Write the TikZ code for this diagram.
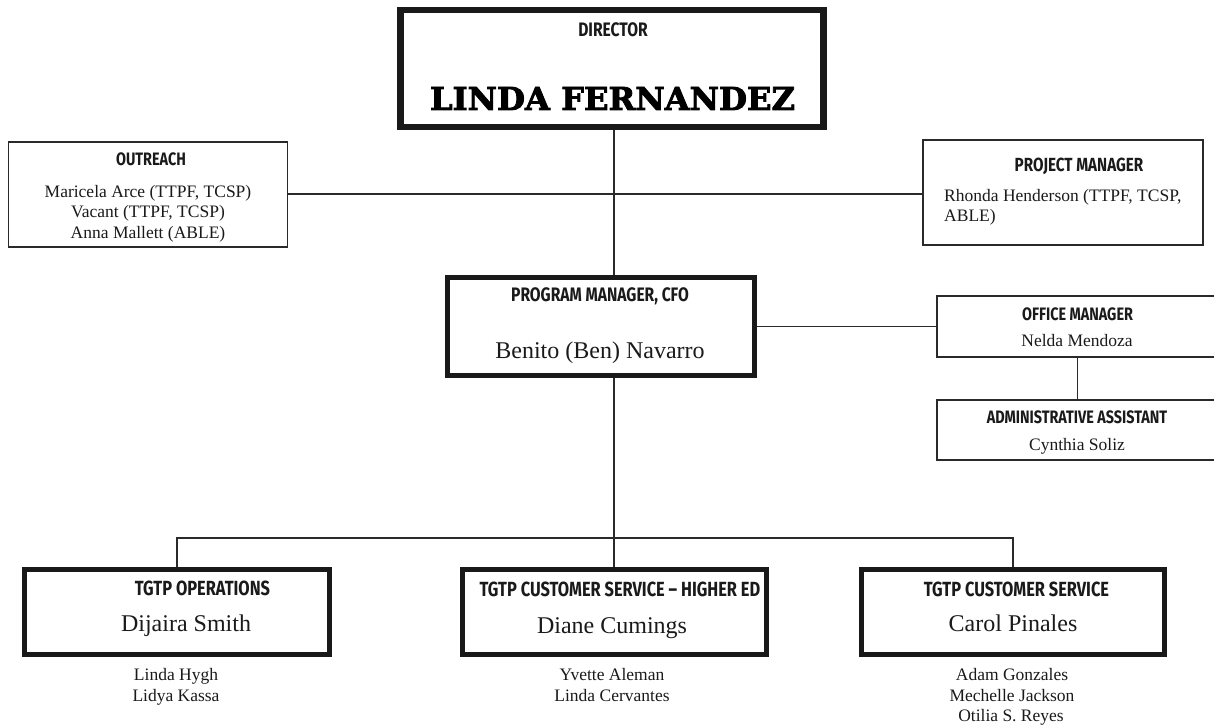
\documentclass[tikz,border=0pt]{standalone}
\usepackage{fontspec}
\usepackage{graphicx}
\setmainfont{Liberation Serif}
\newfontfamily\hdrfont[FakeStretch=0.8]{Fira Sans}
\newfontfamily\slabfont[BoldFeatures={FakeBold=2.5}]{DejaVu Serif}
\definecolor{lineC}{HTML}{2A2A2A}
\definecolor{txtC}{HTML}{1A1A1A}
\tikzset{
  thinbox/.style={draw=lineC, line width=1.4pt, fill=white, inner sep=0pt},
  thickbox/.style={draw=black!90, line width=5pt, fill=white, inner sep=0pt},
  heavybox/.style={draw=black!90, line width=6.5pt, fill=white, inner sep=0pt},
  conn/.style={draw=lineC, line width=1.4pt},
  txt/.style={anchor=base, inner sep=0pt, text=txtC, font=\fontsize{17.5}{20}\selectfont},
  bigtxt/.style={anchor=base, inner sep=0pt, text=txtC, font=\fontsize{24}{28}\selectfont},
  hdr/.style={anchor=base, inner sep=0pt, text=txtC, font=\hdrfont\bfseries\fontsize{18}{20}\selectfont},
  bighdr/.style={hdr, font=\hdrfont\bfseries\fontsize{19.5}{22}\selectfont},
  tgtphdr/.style={hdr, font=\hdrfont\bfseries\fontsize{20.5}{22}\selectfont}
}
\begin{document}
\begin{tikzpicture}[x=1pt,y=-1pt]
\useasboundingbox[fill=white] (0,0) rectangle (1214,727);

% boxes
\node[heavybox, minimum width=423pt, minimum height=117pt] (dir) at (612,68.5) {};
\node[thinbox, minimum width=279pt, minimum height=105pt] (out) at (148,194.5) {};
\node[thinbox, minimum width=280pt, minimum height=105pt] (proj) at (1063,192.5) {};
\node[thickbox, minimum width=306.5pt, minimum height=98.5pt] (pm) at (600.75,326.25) {};
\node[thinbox, minimum width=281pt, minimum height=61pt] (om) at (1077.5,326.5) {};
\node[thinbox, minimum width=281pt, minimum height=60pt] (aa) at (1077.5,430) {};
\node[thickbox, minimum width=305pt, minimum height=85pt] (ops) at (177,612) {};
\node[thickbox, minimum width=304pt, minimum height=85pt] (hed) at (614,612) {};
\node[thickbox, minimum width=303pt, minimum height=85pt] (cs) at (1013,612) {};

% junction coordinates
\coordinate (j1) at (614,194);
\coordinate (bus) at (614,538);

% connectors
\draw[conn] (dir.south -| j1) -- (pm.north -| j1);
\draw[conn] (out.east |- j1) -- (proj.west |- j1);
\draw[conn] (pm.east) -- (om.west |- pm.east);
\draw[conn] (om.south) -- (aa.north);
\draw[conn] (pm.south -| bus) -- (bus);
\draw[conn] (ops.north) |- (bus) -| (cs.north);
\draw[conn] (bus) -- (hed.north);

% texts
\node[bighdr] (t-dir) at (613,37) {DIRECTOR};
\node[anchor=base, inner sep=0pt, text=black] (t-lf) at (612.5,110)
  {\resizebox{365pt}{23pt}{\slabfont\bfseries LINDA FERNANDEZ}};

\node[hdr] (t-out) at (151,166) {OUTREACH};
\node[txt] (t-o1) at (148,198) {Maricela Arce (TTPF, TCSP)};
\node[txt] (t-o2) at (148,218) {Vacant (TTPF, TCSP)};
\node[txt] (t-o3) at (148,238) {Anna Mallett (ABLE)};

\node[hdr, font=\hdrfont\bfseries\fontsize{19}{22}\selectfont] (t-proj) at (1079,172) {PROJECT MANAGER};
\node[txt, anchor=base west] (t-p1) at (944,202) {Rhonda Henderson (TTPF, TCSP,};
\node[txt, anchor=base west] (t-p2) at (944,222) {ABLE)};

\node[bighdr] (t-pm) at (600,301.5) {PROGRAM MANAGER, CFO};
\node[bigtxt] (t-pm2) at (600,358) {Benito (Ben) Navarro};

\node[hdr] (t-om) at (1077.5,320) {OFFICE MANAGER};
\node[txt] (t-om2) at (1077,346.5) {Nelda Mendoza};
\node[hdr] (t-aa) at (1077,423) {ADMINISTRATIVE ASSISTANT};
\node[txt] (t-aa2) at (1077,450) {Cynthia Soliz};

\node[tgtphdr] (t-ops) at (202.5,595) {TGTP OPERATIONS};
\node[bigtxt] (t-ops2) at (186,631.5) {Dijaira Smith};
\node[txt] (t-ops3) at (176,680) {Linda Hygh};
\node[txt] (t-ops4) at (176,701.5) {Lidya Kassa};

\node[tgtphdr] (t-hed) at (620,596) {TGTP CUSTOMER SERVICE – HIGHER ED};
\node[bigtxt] (t-hed2) at (612,633) {Diane Cumings};
\node[txt] (t-hed3) at (612,680) {Yvette Aleman};
\node[txt] (t-hed4) at (612,701.5) {Linda Cervantes};

\node[tgtphdr] (t-cs) at (1016.5,596) {TGTP CUSTOMER SERVICE};
\node[bigtxt] (t-cs2) at (1013,631.5) {Carol Pinales};
\node[txt] (t-cs3) at (1012,680) {Adam Gonzales};
\node[txt] (t-cs4) at (1012,701.5) {Mechelle Jackson};
\node[txt] (t-cs5) at (1011,721.5) {Otilia S. Reyes};
\end{tikzpicture}
\end{document}
